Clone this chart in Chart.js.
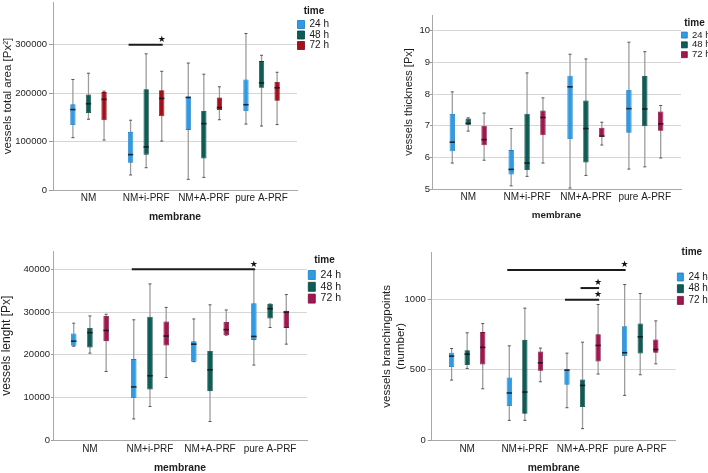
<!DOCTYPE html>
<html>
<head>
<meta charset="utf-8">
<title>vessels</title>
<script src="https://cdn.jsdelivr.net/npm/chart.js@4.4.1/dist/chart.umd.min.js"></script>
<style>
body { margin: 0; background: #fff; }
canvas { position: absolute; }
</style>
</head>
<body>
<canvas id="areaChart" width="354" height="236" style="left:0;top:0"></canvas>
<canvas id="thickChart" width="354" height="236" style="left:354px;top:0"></canvas>
<canvas id="lengthChart" width="354" height="237" style="left:0;top:236px"></canvas>
<canvas id="branchChart" width="354" height="237" style="left:354px;top:236px"></canvas>
<script>
var categories = ['NM', 'NM+i-PRF', 'NM+A-PRF', 'pure A-PRF'];
var times = ['24 h', '48 h', '72 h'];

// every row: [min, q1, median, q3, max], one row per membrane
var area24 = [[108000, 134000, 166000, 177000, 228000], [31000, 56000, 73000, 120000, 144000], [22000, 124000, 191000, 193000, 262000], [136000, 163000, 176000, 228000, 323000]];
var area48 = [[146000, 159000, 178000, 197000, 241000], [46000, 73000, 89000, 208000, 281000], [26000, 65000, 137000, 163000, 239000], [132000, 211000, 221000, 266000, 278000]];
var area72 = [[103000, 144000, 187000, 202000, 204000], [101000, 152000, 189000, 206000, 245000], [145000, 165000, 170000, 191000, 213000], [135000, 184000, 211000, 223000, 243000]];

var thick24 = [[5.82, 6.19, 6.48, 7.37, 8.07], [5.10, 5.46, 5.62, 6.23, 6.91], [5.03, 6.58, 8.23, 8.58, 9.26], [5.63, 6.78, 7.54, 8.13, 9.64]];
var thick48 = [[6.83, 7.03, 7.07, 7.23, 7.25], [5.40, 5.60, 5.82, 7.38, 8.67], [5.43, 5.84, 6.91, 7.80, 9.11], [5.70, 6.98, 7.53, 8.57, 9.34]];
var thick72 = [[5.91, 6.38, 6.56, 7.00, 7.40], [5.82, 6.70, 7.26, 7.48, 7.88], [6.39, 6.66, 6.67, 6.94, 7.11], [5.98, 6.84, 7.06, 7.45, 7.64]];

var length24 = [[22000, 22100, 23200, 25000, 27400], [5000, 9900, 12500, 19000, 28200], [18400, 18400, 22500, 23200, 28400], [17600, 23500, 24300, 32100, 40000]];
var length48 = [[20400, 21700, 25200, 26300, 29100], [7900, 11900, 15100, 28900, 36600], [4400, 11500, 16500, 20900, 31700], [26400, 28500, 30800, 31900, 31900]];
var length72 = [[16100, 23200, 25700, 29100, 29500], [14700, 22200, 24400, 27800, 31100], [24600, 24600, 25900, 27700, 30500], [22500, 26300, 30000, 30300, 34100]];

var branch24 = [[427, 520, 598, 622, 652], [140, 242, 335, 446, 671], [230, 394, 498, 505, 619], [318, 598, 622, 811, 1108]];
var branch48 = [[510, 534, 612, 640, 764], [140, 187, 342, 714, 940], [81, 235, 389, 432, 697], [465, 617, 735, 830, 1044]];
var branch72 = [[365, 539, 660, 769, 830], [415, 493, 550, 631, 655], [470, 560, 674, 754, 966], [543, 622, 645, 717, 849]];

// y tick labels of each panel
var areaTicks = [0, 100000, 200000, 300000];
var thickTicks = [5, 6, 7, 8, 9, 10];
var lengthTicks = [0, 10000, 20000, 30000, 40000];
var branchTicks = [0, 500, 1000];

// significance bars: [from time, from membrane, to time, to membrane, value]
var areaSig = [[0, 1, 2, 1, 300000]];
var thickSig = [];
var lengthSig = [[0, 1, 0, 3, 40000]];
var branchSig = [[0, 1, 0, 3, 1212], [1, 2, 2, 2, 1083], [0, 2, 2, 2, 1000]];

var FONT = '"Liberation Sans", Arial, sans-serif';

function boxData(rows) {
  return rows.map(function (r, i) { return { x: i, y: [r[1], r[3]] }; });
}

// whiskers behind the boxes, medians / caps / stars on top
var boxPlugin = {
  id: 'boxplot',
  beforeDatasetsDraw: function (chart) {
    var ctx = chart.ctx, y = chart.scales.y;
    chart.data.datasets.forEach(function (ds, i) {
      chart.getDatasetMeta(i).data.forEach(function (bar, j) {
        var s = ds.stats[j];
        ctx.save();
        ctx.strokeStyle = '#9d9d9d';
        ctx.lineWidth = 1.3;
        ctx.beginPath();
        ctx.moveTo(bar.x, y.getPixelForValue(s[0]));
        ctx.lineTo(bar.x, y.getPixelForValue(s[4]));
        ctx.stroke();
        ctx.restore();
      });
    });
  },
  afterDatasetsDraw: function (chart, args, opts) {
    var ctx = chart.ctx, y = chart.scales.y;
    chart.data.datasets.forEach(function (ds, i) {
      chart.getDatasetMeta(i).data.forEach(function (bar, j) {
        var s = ds.stats[j], half = bar.width / 2;
        ctx.save();
        ctx.strokeStyle = '#555';
        ctx.lineWidth = 1;
        [s[0], s[4]].forEach(function (v) {
          var py = y.getPixelForValue(v);
          ctx.beginPath();
          ctx.moveTo(bar.x - 1.5, py);
          ctx.lineTo(bar.x + 1.5, py);
          ctx.stroke();
        });
        var my = y.getPixelForValue(s[2]);
        ctx.strokeStyle = 'rgba(15,20,30,0.85)';
        ctx.lineWidth = 1.6;
        ctx.beginPath();
        ctx.moveTo(bar.x - half, my);
        ctx.lineTo(bar.x + half, my);
        ctx.stroke();
        ctx.restore();
      });
    });
    (opts.sig || []).forEach(function (s) {
      var a = chart.getDatasetMeta(s[0]).data[s[1]];
      var b = chart.getDatasetMeta(s[2]).data[s[3]];
      var py = y.getPixelForValue(s[4]);
      ctx.save();
      ctx.strokeStyle = '#1b1b1b';
      ctx.lineWidth = 2;
      ctx.beginPath();
      ctx.moveTo(a.x - 2, py);
      ctx.lineTo(b.x + 1, py);
      ctx.stroke();
      ctx.fillStyle = '#111';
      ctx.font = '9px "DejaVu Sans"';
      ctx.textAlign = 'center';
      ctx.textBaseline = 'middle';
      ctx.fillText('\u2605', b.x, py - 5);
      ctx.restore();
    });
  }
};

function makeChart(id, p) {
  var datasets = p.series.map(function (rows, k) {
    return {
      label: times[k],
      data: boxData(rows),
      stats: rows,
      backgroundColor: p.colors[k],
      borderColor: p.borders[k],
      borderWidth: 0.8,
      borderSkipped: false,
      categoryPercentage: 0.81,
      barPercentage: 0.34
    };
  });

  return new Chart(document.getElementById(id), {
    type: 'bar',
    data: { datasets: datasets },
    plugins: [boxPlugin],
    options: {
      responsive: false,
      animation: false,
      events: [],
      layout: { padding: p.padding },
      plugins: {
        tooltip: { enabled: false },
        boxplot: { sig: p.sig },
        legend: {
          position: 'right',
          align: 'start',
          maxWidth: p.legendWidth,
          title: {
            display: true,
            text: 'time',
            position: 'center',
            color: '#1a1a1a',
            font: { family: FONT, size: 10, weight: 'bold' },
            padding: { top: p.legendTitle[0], bottom: p.legendTitle[1] }
          },
          labels: {
            boxWidth: p.box[0],
            boxHeight: p.box[1],
            padding: p.legendGap,
            color: '#1a1a1a',
            font: { family: FONT, size: p.legendFont }
          }
        }
      },
      scales: {
        x: {
          type: 'linear',
          min: -0.615,
          max: 3.615,
          offset: false,
          grid: { display: false, drawTicks: false },
          border: { color: '#a8a8a8' },
          ticks: {
            stepSize: 1,
            includeBounds: false,
            autoSkip: false,
            maxRotation: 0,
            padding: p.xTickPad,
            color: '#1e1e1e',
            font: { family: FONT, size: 10 },
            callback: function (v) { return categories[v]; }
          },
          title: {
            display: true,
            text: 'membrane',
            color: '#1e1e1e',
            font: { family: FONT, size: p.xTitleFont, weight: 'bold', lineHeight: p.xTitleLine },
            padding: { top: 0, bottom: p.xTitlePad }
          },
          afterFit: function (s) { s.height = p.xHeight; s.paddingLeft = 0; s.paddingRight = 0; }
        },
        y: {
          min: p.yMin,
          max: p.yMax,
          grid: { color: '#d6d6d6', tickLength: p.tickLen, tickColor: '#9a9a9a' },
          border: { color: '#a8a8a8' },
          ticks: {
            padding: p.yTickPad,
            color: '#1e1e1e',
            font: { family: FONT, size: p.yTickFont },
            callback: function (v) { return String(v); }
          },
          afterBuildTicks: function (s) {
            s.ticks = p.yTicks.map(function (v) { return { value: v }; });
          },
          title: {
            display: true,
            text: p.yTitle,
            color: '#1e1e1e',
            font: { family: FONT, size: p.yTitleFont, lineHeight: 1.17 },
            padding: { top: p.yTitlePad, bottom: 0 }
          },
          afterFit: function (s) { s.width = p.yWidth; s.paddingTop = p.yPadTop; s.paddingBottom = 0; }
        }
      }
    }
  });
}

var blue = '#2f9be3', teal = '#0d5c56', red = '#a40f1a', crimson = '#a2154e';
var blueB = '#1d7cc0', tealB = '#08433f', redB = '#7c0a12', crimsonB = '#7b0f3b';

makeChart('areaChart', {
  series: [area24, area48, area72], sig: areaSig, yTicks: areaTicks,
  colors: [blue, teal, red], borders: [blueB, tealB, redB],
  padding: { top: 2, left: 0, right: 23, bottom: 0 },
  legendWidth: 34, legendTitle: [4.5, 0.5], box: [7, 8], legendGap: 0.5, legendFont: 10,
  yMin: 0, yMax: 388000, yWidth: 53, yPadTop: 0,
  yTitle: 'vessels total area [Px\u00b2]', yTitleFont: 11.5, yTitlePad: 1,
  yTickFont: 9.5, yTickPad: 2, tickLen: 4,
  xHeight: 46, xTickPad: 2, xTitleFont: 10.3, xTitleLine: 1.2, xTitlePad: 12.8
});

makeChart('thickChart', {
  series: [thick24, thick48, thick72], sig: thickSig, yTicks: thickTicks,
  colors: [blue, teal, crimson], borders: [blueB, tealB, crimsonB],
  padding: { top: 15, left: 0, right: 0, bottom: 0 },
  legendWidth: 27, legendTitle: [3, 0], box: [6, 6], legendGap: 0.3, legendFont: 9.5,
  yMin: 5, yMax: 10.5, yWidth: 78, yPadTop: 0,
  yTitle: 'vessels thickness [Px]', yTitleFont: 11, yTitlePad: 48.4,
  yTickFont: 9.5, yTickPad: 0, tickLen: 2,
  xHeight: 47, xTickPad: 2.7, xTitleFont: 9.8, xTitleLine: 1.2, xTitlePad: 15.1
});

makeChart('lengthChart', {
  series: [length24, length48, length72], sig: lengthSig, yTicks: lengthTicks,
  colors: [blue, teal, crimson], borders: [blueB, tealB, crimsonB],
  padding: { top: 15, left: 0, right: 12, bottom: 0 },
  legendWidth: 35, legendTitle: [4, 1.45], box: [7, 9], legendGap: 1.3, legendFont: 10.5,
  yMin: 0, yMax: 44300, yWidth: 53, yPadTop: 0,
  yTitle: 'vessels lenght [Px]', yTitleFont: 12, yTitlePad: 0,
  yTickFont: 9.5, yTickPad: 1, tickLen: 2,
  xHeight: 32.7, xTickPad: 2.7, xTitleFont: 10.3, xTitleLine: 1, xTitlePad: 0
});

makeChart('branchChart', {
  series: [branch24, branch48, branch72], sig: branchSig, yTicks: branchTicks,
  colors: [blue, teal, crimson], borders: [blueB, tealB, crimsonB],
  padding: { top: 5, left: 0, right: 0, bottom: 0 },
  legendWidth: 32.3, legendTitle: [6.7, 10.6], box: [6, 8], legendGap: 1.7, legendFont: 10,
  yMin: 0, yMax: 1335, yWidth: 77.7, yPadTop: 16.7,
  yTitle: ['vessels branchingpoints', '(number)'], yTitleFont: 11.5, yTitlePad: 26.6,
  yTickFont: 9.5, yTickPad: 2, tickLen: 4,
  xHeight: 33, xTickPad: 3, xTitleFont: 10.3, xTitleLine: 1, xTitlePad: 0
});
</script>
</body>
</html>
